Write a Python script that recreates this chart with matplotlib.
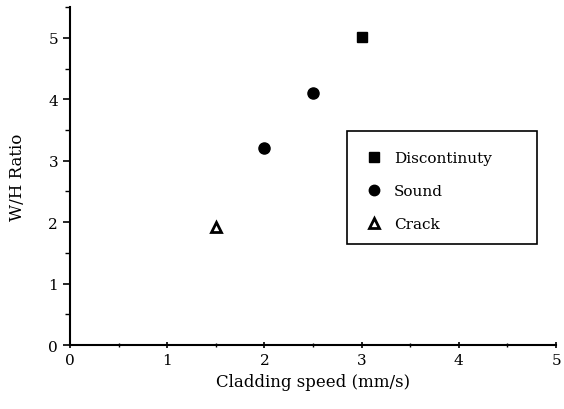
import matplotlib
matplotlib.use('Agg')
import matplotlib.pyplot as plt
from matplotlib.lines import Line2D
from matplotlib.patches import Rectangle
from matplotlib.ticker import MultipleLocator

plt.rcParams['font.family'] = 'DejaVu Serif'

# data
disc_speed = [3.0]
disc_ratio = [5.02]
sound_speed = [2.0, 2.5]
sound_ratio = [3.21, 4.11]
crack_speed = [1.5]
crack_ratio = [1.92]

fig = plt.figure(figsize=(5.64, 4.10), dpi=100)
ax = fig.add_axes([0.124, 0.156, 0.862, 0.824])

ax.plot(disc_speed, disc_ratio, ls='none', marker='s', ms=7, color='k')
ax.plot(sound_speed, sound_ratio, ls='none', marker='o', ms=8, color='k')
ax.plot(crack_speed, crack_ratio, ls='none', marker='^', ms=7.5, mfc='white',
        mec='k', mew=2)

ax.set_xlim(0, 5)
ax.set_ylim(0, 5.5)
ax.xaxis.set_major_locator(MultipleLocator(1))
ax.xaxis.set_minor_locator(MultipleLocator(0.5))
ax.yaxis.set_major_locator(MultipleLocator(1))
ax.yaxis.set_minor_locator(MultipleLocator(0.5))
ax.spines['top'].set_visible(False)
ax.spines['right'].set_visible(False)
ax.spines['left'].set_linewidth(1.5)
ax.spines['bottom'].set_linewidth(1.5)
ax.tick_params(which='major', direction='out', length=5, width=1.2, labelsize=11)
ax.tick_params(which='minor', direction='out', length=3.5, width=1.0)
ax.tick_params(axis='x', which='both', direction='inout')

ax.set_xlabel('Cladding speed (mm/s)', fontsize=12, labelpad=4)
ax.set_ylabel('W/H Ratio', fontsize=12, labelpad=16)

# legend box drawn by hand so the frame is wider than the entries
box = Rectangle((0.570, 0.299), 0.391, 0.334, transform=ax.transAxes,
                fill=True, facecolor='white', edgecolor='k', lw=1.2, zorder=3)
ax.add_patch(box)

handles = [
    Line2D([], [], ls='none', marker='s', ms=6.5, color='k'),
    Line2D([], [], ls='none', marker='o', ms=7.5, color='k'),
    Line2D([], [], ls='none', marker='^', ms=7, mfc='white', mec='k', mew=2),
]
leg = ax.legend(handles, ['Discontinuty', 'Sound', 'Crack'],
                loc='upper left', bbox_to_anchor=(0.61, 0.574),
                borderaxespad=0, fontsize=11, labelspacing=1.25,
                handlelength=1.0, handletextpad=0.8, borderpad=0,
                frameon=False)
leg.set_zorder(4)

fig.savefig('out.png', dpi=100)
